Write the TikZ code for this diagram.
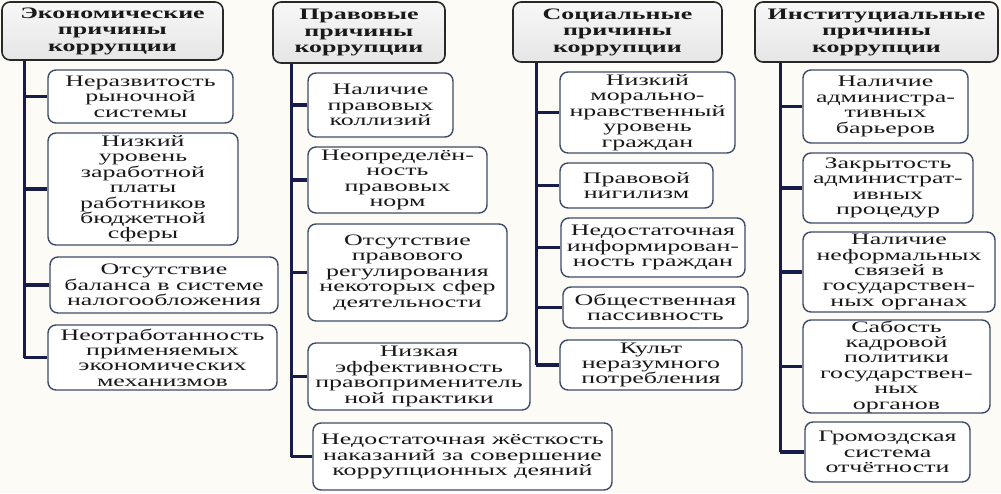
\documentclass[tikz,border=0pt]{standalone}
\usepackage{fontspec}
\setmainfont[FakeStretch=1.62]{Liberation Serif}
\definecolor{bgcol}{RGB}{252,251,246}
\definecolor{hdrborder}{RGB}{40,40,40}
\definecolor{boxborder}{RGB}{62,74,104}
\definecolor{conncol}{RGB}{24,28,74}
\definecolor{txtcol}{RGB}{25,25,25}
\begin{document}
\begin{tikzpicture}[x=1pt,y=-1pt,
  hdr/.style={draw=hdrborder, line width=1.6pt, rounded corners=8pt,
    top color=gray!6, bottom color=gray!20, align=center, inner sep=0pt,
    text=txtcol, font=\bfseries\fontsize{16}{16.5}\selectfont},
  cbox/.style={draw=boxborder, line width=1.4pt, rounded corners=8pt,
    fill=white, align=center, inner sep=0pt, text=txtcol,
    font=\fontsize{16}{15.4}\selectfont},
  conn/.style={draw=conncol, line width=3.2pt}]
\fill[bgcol] (0,0) rectangle (1001,493);
\useasboundingbox (0,0) rectangle (1001,493);

% Column 1
\node[hdr, minimum width=221pt, minimum height=58pt] (h1) at (112.5,31) {Экономические\\причины\\коррупции};
\node[cbox, minimum width=185pt, minimum height=53pt] (b11) at (140.5,96.5) {Неразвитость\\рыночной\\системы};
\node[cbox, minimum width=190pt, minimum height=112pt] (b12) at (143,189) {Низкий\\уровень\\заработной\\платы\\работников\\бюджетной\\сферы};
\node[cbox, minimum width=228pt, minimum height=56pt] (b13) at (164,285) {Отсутствие\\баланса в системе\\налогообложения};
\node[cbox, minimum width=229pt, minimum height=65pt] (b14) at (162.5,357.5) {Неотработанность\\применяемых\\экономических\\механизмов};

% Column 2
\node[hdr, minimum width=172pt, minimum height=61pt] (h2) at (359,32.5) {Правовые\\причины\\коррупции};
\node[cbox, minimum width=145pt, minimum height=64pt] (b21) at (380.5,105) {Наличие\\правовых\\коллизий};
\node[cbox, minimum width=179pt, minimum height=66pt] (b22) at (397.5,180) {Неопределён-\\ность\\правовых\\норм};
\node[cbox, minimum width=199pt, minimum height=97pt] (b23) at (407.5,272.5) {Отсутствие\\правового\\регулирования\\некоторых сфер\\деятельности};
\node[cbox, minimum width=222pt, minimum height=67pt] (b24) at (419,376.5) {Низкая\\эффективность\\правоприменитель\\ной практики};
\node[cbox, minimum width=299pt, minimum height=67pt] (b25) at (462.5,456.5) {Недостаточная жёсткость\\наказаний за совершение\\коррупционных деяний};

% Column 3
\node[hdr, minimum width=209pt, minimum height=60pt] (h3) at (617.5,32) {Социальные\\причины\\коррупции};
\node[cbox, minimum width=175pt, minimum height=81pt] (b31) at (647.5,112.5) {Низкий\\морально-\\нравственный\\уровень\\граждан};
\node[cbox, minimum width=153pt, minimum height=45pt] (b32) at (636.5,185.5) {Правовой\\нигилизм};
\node[cbox, minimum width=184pt, minimum height=59pt] (b33) at (653,247.5) {Недостаточная\\информирован-\\ность граждан};
\node[cbox, minimum width=185pt, minimum height=41pt] (b34) at (655.5,307.5) {Общественная\\пассивность};
\node[cbox, minimum width=182pt, minimum height=50pt] (b35) at (651,365) {Культ\\неразумного\\потребления};

% Column 4
\node[hdr, minimum width=243pt, minimum height=60pt] (h4) at (876.5,32) {Институциальные\\причины\\коррупции};
\node[cbox, minimum width=165pt, minimum height=73pt] (b41) at (885.5,106.5) {Наличие\\администра-\\тивных\\барьеров};
\node[cbox, minimum width=170pt, minimum height=70pt] (b42) at (888,188) {Закрытость\\администрат-\\ивных\\процедур};
\node[cbox, minimum width=192pt, minimum height=80pt] (b43) at (899,272) {Наличие\\неформальных\\связей в\\государствен-\\ных органах};
\node[cbox, minimum width=187pt, minimum height=93pt] (b44) at (896.5,366.5) {Сабость\\кадровой\\политики\\государствен-\\ных\\органов};
\node[cbox, minimum width=165pt, minimum height=60pt] (b45) at (887.5,452) {Громоздская\\система\\отчётности};

% Trunks
\path (h1.south west) ++(23,0) coordinate (t1);
\path (h2.south west) ++(19,0) coordinate (t2);
\path (h3.south west) ++(24,0) coordinate (t3);
\path (h4.south west) ++(26,0) coordinate (t4);

\draw[conn] (t1) -- (t1 |- b14.west);
\foreach \b in {b11,b12,b13,b14} \draw[conn] (t1 |- \b.west) -- (\b.west);
\draw[conn] (t2) -- (t2 |- b25.west);
\foreach \b in {b21,b22,b23,b24,b25} \draw[conn] (t2 |- \b.west) -- (\b.west);
\draw[conn] (t3) -- (t3 |- b35.west);
\foreach \b in {b31,b32,b33,b34,b35} \draw[conn] (t3 |- \b.west) -- (\b.west);
\draw[conn] (t4) -- (t4 |- b45.west);
\foreach \b in {b41,b42,b43,b44,b45} \draw[conn] (t4 |- \b.west) -- (\b.west);
\end{tikzpicture}
\end{document}
